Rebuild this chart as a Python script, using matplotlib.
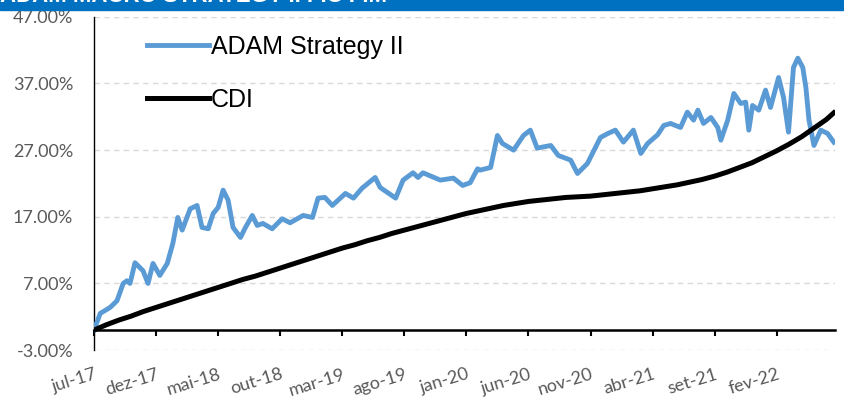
import matplotlib.pyplot as plt
from matplotlib.patches import Rectangle
from matplotlib.ticker import FuncFormatter

# months counted from jul-17
adam_months = [0.0, 0.5, 1.3, 1.85, 2.35, 2.65, 2.9, 3.3, 3.95, 4.35, 4.75, 5.3, 5.9, 6.35,
               6.75, 7.1, 7.75, 8.3, 8.7, 9.2, 9.6, 10.0, 10.4, 10.8, 11.2, 11.8, 12.2,
               12.75, 13.15, 13.6, 14.35, 15.15, 15.8, 16.85, 17.6, 18.05, 18.6, 19.2,
               20.25, 20.9, 21.6, 22.65, 23.05, 24.3, 24.9, 25.7, 26.1, 26.5, 27.9, 28.95,
               29.7, 30.3, 30.9, 31.1, 31.95, 32.5, 32.9, 33.8, 34.6, 35.15, 35.7, 36.8,
               37.4, 38.4, 38.95, 39.75, 40.8, 41.4, 42.0, 42.65, 43.45, 44.05, 44.6,
               45.4, 45.9, 46.45, 47.25, 47.8, 48.3, 48.65, 49.1, 49.7, 50.25, 50.5,
               51.05, 51.55, 52.1, 52.5, 52.75, 53.05, 53.55, 54.1, 54.5, 55.15, 55.55,
               55.95, 56.35, 56.7, 57.1, 57.35, 57.6, 58.0, 58.55, 59.1, 59.6]
adam_values = [0.0, 2.5, 3.4, 4.4, 7.0, 7.4, 7.0, 10.1, 8.9, 7.0, 10.0, 8.2, 10.0, 13.0,
               16.9, 15.0, 18.2, 18.7, 15.4, 15.2, 17.5, 18.4, 21.0, 19.5, 15.4, 13.9, 15.4,
               17.2, 15.7, 16.0, 15.2, 16.7, 16.1, 17.2, 16.9, 19.8, 19.9, 18.7,
               20.5, 19.8, 21.3, 22.9, 21.4, 19.8, 22.5, 23.6, 22.9, 23.6, 22.5, 22.8,
               21.7, 22.1, 24.2, 24.0, 24.4, 29.2, 28.0, 27.0, 29.2, 30.0, 27.3, 27.7,
               26.2, 25.5, 23.5, 25.0, 28.9, 29.5, 30.0, 28.2, 30.0, 26.5, 28.0,
               29.3, 30.7, 31.0, 30.4, 32.7, 31.5, 33.0, 31.0, 31.9, 30.4, 28.5,
               31.5, 35.5, 34.0, 34.2, 30.0, 33.7, 33.0, 36.0, 33.4, 37.9, 34.9,
               29.7, 39.4, 40.8, 39.4, 36.4, 31.5, 27.7, 30.0, 29.5, 28.2]

cdi_months = list(range(60)) + [59.6]
cdi_values = [0.0, 0.8, 1.5, 2.1, 2.8, 3.4, 4.0, 4.6, 5.2, 5.8, 6.4, 7.0, 7.6, 8.1, 8.7,
              9.3, 9.9, 10.5, 11.1, 11.7, 12.3, 12.8, 13.4, 13.9, 14.5, 15.0, 15.5, 16.0,
              16.5, 17.0, 17.5, 17.9, 18.3, 18.7, 19.0, 19.3, 19.5, 19.7, 19.9, 20.0,
              20.1, 20.3, 20.5, 20.7, 20.9, 21.2, 21.5, 21.8, 22.2, 22.6, 23.1, 23.7,
              24.4, 25.1, 26.0, 26.9, 27.9, 29.0, 30.3, 31.6, 32.6]

tick_months = [0, 5, 10, 15, 20, 25, 30, 35, 40, 45, 50, 55]
tick_labels = ['jul-17', 'dez-17', 'mai-18', 'out-18', 'mar-19', 'ago-19',
               'jan-20', 'jun-20', 'nov-20', 'abr-21', 'set-21', 'fev-22']
y_ticks = [-3, 7, 17, 27, 37, 47]

fig = plt.figure(figsize=(8.44, 4.01), dpi=100)
ax = fig.add_axes([0.1114, 0.127, 0.878, 0.831])

# blue header strip, title mostly cut off
fig.patches.append(Rectangle((0, 1 - 10 / 401), 1, 10 / 401, transform=fig.transFigure,
                             color='#0070C0', zorder=0))
fig.text(0.0, 1.0 + 4 / 401, 'ADAM MACRO STRATEGY II FIC FIM', color='white', fontsize=16,
         fontweight='bold', family='Liberation Sans', va='center', ha='left')

ax.plot(adam_months, adam_values, color='#5B9BD5', lw=3.5, label='ADAM Strategy II',
        solid_joinstyle='round', zorder=3)
ax.plot(cdi_months, cdi_values, color='black', lw=3.6, label='CDI', zorder=4)

ax.set_xlim(0, 59.7)
ax.set_ylim(-3, 47)
ax.set_yticks(y_ticks)
ax.yaxis.set_major_formatter(FuncFormatter(lambda v, p: f'{v:.2f}%'))
ax.grid(axis='y', color='#D9D9D9', ls=(0, (4, 3)), lw=1.0)
ax.set_axisbelow(True)

for s in ['top', 'right']:
    ax.spines[s].set_visible(False)
ax.spines['left'].set_color('black')
ax.spines['left'].set_linewidth(1.0)
ax.spines['bottom'].set_position(('data', 0))
ax.spines['bottom'].set_linewidth(1.8)
ax.tick_params(axis='y', length=0, pad=15, labelsize=13, labelcolor='#595959')
ax.set_xticks(tick_months)
ax.set_xticklabels(tick_labels, rotation=17, ha='right', rotation_mode='anchor')
ax.tick_params(axis='x', direction='out', length=4, width=1.5, pad=22,
               labelsize=13, labelcolor='#595959')
for lab in ax.get_xticklabels() + ax.get_yticklabels():
    lab.set_family('Lato')

leg = ax.legend(loc='upper left', bbox_to_anchor=(0.072, 0.945), frameon=False,
                handlelength=2.45, handletextpad=0.1, labelspacing=1.15,
                borderpad=0, borderaxespad=0, prop={'family': 'Liberation Sans', 'size': 18})

fig.savefig('out.png', dpi=100)
